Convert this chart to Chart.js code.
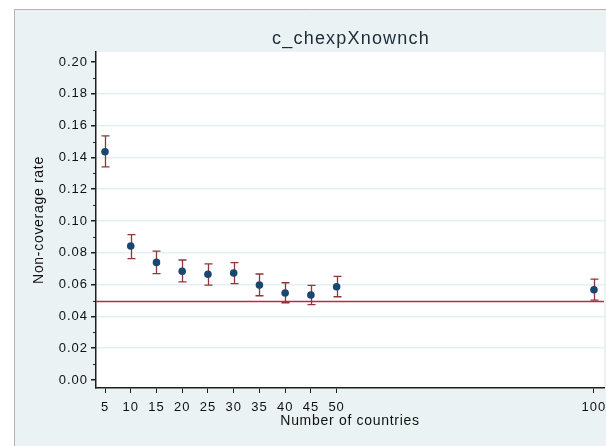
<!DOCTYPE html>
<html>
<head>
<meta charset="utf-8">
<script src="https://cdn.jsdelivr.net/npm/chart.js@4/dist/chart.umd.min.js"></script>
<style>
  html, body { margin: 0; padding: 0; background: #ffffff; }
  #wrap { width: 606px; height: 446px; position: relative; }
</style>
</head>
<body>
<div id="wrap"><canvas id="chart"></canvas></div>
<script>
const countries = [5, 10, 15, 20, 25, 30, 35, 40, 45, 50, 100];
const rates = [0.1436, 0.0843, 0.0740, 0.0684, 0.0665, 0.0673, 0.0597, 0.0547, 0.0535, 0.0587, 0.0568];
const upper = [0.1535, 0.0914, 0.0811, 0.0755, 0.0730, 0.0738, 0.0667, 0.0612, 0.0595, 0.0652, 0.0635];
const lower = [0.1340, 0.0763, 0.0669, 0.0618, 0.0597, 0.0606, 0.0530, 0.0486, 0.0474, 0.0524, 0.0503];
const xTicks = [5, 10, 15, 20, 25, 30, 35, 40, 45, 50, 100];
const yTicks = [0, 0.02, 0.04, 0.06, 0.08, 0.10, 0.12, 0.14, 0.16, 0.18, 0.20];
const refLine = 0.05;

const chartTitle = 'c_chexpXnownch';
const xTitle = 'Number of countries';
const yTitle = 'Non-coverage rate';

const panelBg = '#eaf2f3';
const axisColor = '#1f1f1f';
const gridColor = '#e6eff3';
const pointColor = '#1a476f';
const barColor = '#90353b';
const refColor = '#c4254a';
const font = '"Liberation Sans", Arial, sans-serif';

const points = countries.map((x, i) => ({ x: x, y: rates[i] }));

// background panel + plot area, titles, error bars, reference line, minor ticks
const decor = {
  id: 'decor',
  beforeDraw(chart) {
    const c = chart.ctx, a = chart.chartArea;
    c.save();
    c.fillStyle = '#ffffff';
    c.fillRect(0, 0, chart.width, chart.height);
    c.fillStyle = panelBg;
    c.fillRect(14, 9, chart.width - 14, chart.height - 9);
    c.strokeStyle = '#b4b4b4';
    c.lineWidth = 1;
    c.beginPath();
    c.moveTo(14.5, chart.height);
    c.lineTo(14.5, 9.5);
    c.lineTo(chart.width, 9.5);
    c.stroke();
    c.fillStyle = '#ffffff';
    c.fillRect(a.left, a.top, a.right - a.left, a.bottom - a.top);
    c.restore();
    // stata-ish wide text for tick labels
    c.letterSpacing = '1px';
  },
  afterDatasetsDraw(chart) {
    const c = chart.ctx, a = chart.chartArea;
    const xs = chart.scales.x, ys = chart.scales.y;
    c.save();
    // reference line
    const ry = Math.round(ys.getPixelForValue(refLine)) + 0.5;
    c.strokeStyle = refColor;
    c.lineWidth = 1.3;
    c.beginPath();
    c.moveTo(a.left, ry);
    c.lineTo(a.right, ry);
    c.stroke();
    // error bars
    c.strokeStyle = barColor;
    c.lineWidth = 1.3;
    countries.forEach((x, i) => {
      const px = Math.round(xs.getPixelForValue(x)) + 0.5;
      const top = ys.getPixelForValue(upper[i]);
      const bot = ys.getPixelForValue(lower[i]);
      c.beginPath();
      c.moveTo(px, top); c.lineTo(px, bot);
      c.moveTo(px - 4, top); c.lineTo(px + 4, top);
      c.moveTo(px - 4, bot); c.lineTo(px + 4, bot);
      c.stroke();
    });
    // points on top
    c.fillStyle = pointColor;
    countries.forEach((x, i) => {
      c.beginPath();
      c.arc(xs.getPixelForValue(x), ys.getPixelForValue(rates[i]), 3.8, 0, Math.PI * 2);
      c.fill();
    });
    // minor y ticks
    c.strokeStyle = axisColor;
    c.lineWidth = 1;
    for (let i = 0; i < yTicks.length - 1; i++) {
      const my = Math.round(ys.getPixelForValue((yTicks[i] + yTicks[i + 1]) / 2)) + 0.5;
      c.beginPath();
      c.moveTo(a.left - 3, my);
      c.lineTo(a.left, my);
      c.stroke();
    }
    // titles
    c.fillStyle = '#1e2b38';
    c.font = '18px ' + font;
    c.letterSpacing = '1.2px';
    c.textAlign = 'center';
    c.textBaseline = 'middle';
    c.fillText(chartTitle, (a.left + a.right) / 2 + 1, 39);
    c.fillStyle = '#111111';
    c.font = '14px ' + font;
    c.letterSpacing = '0.7px';
    c.fillText(xTitle, (a.left + a.right) / 2, 421);
    c.translate(39, (a.top + a.bottom) / 2);
    c.rotate(-Math.PI / 2);
    c.fillText(yTitle, 0, 0);
    c.restore();
  }
};

new Chart(document.getElementById('chart'), {
  type: 'scatter',
  data: {
    datasets: [{
      data: points,
      pointRadius: 0,
      pointHoverRadius: 0,
      backgroundColor: pointColor
    }]
  },
  options: {
    responsive: true,
    maintainAspectRatio: false,
    animation: false,
    events: [],
    layout: { padding: { left: 14, top: 52, right: 2, bottom: 0 } },
    plugins: {
      legend: { display: false },
      tooltip: { enabled: false }
    },
    scales: {
      x: {
        type: 'linear',
        min: 3.25,
        max: 101.95,
        afterBuildTicks: s => { s.ticks = xTicks.map(v => ({ value: v })); },
        afterFit: s => { s.height = 58; s.paddingLeft = 0; s.paddingRight = 0; },
        ticks: {
          color: '#111111',
          font: { family: font, size: 13 },
          padding: 7,
          maxRotation: 0,
          autoSkip: false,
          callback: v => String(v)
        },
        grid: {
          drawOnChartArea: false,
          tickColor: axisColor,
          tickLength: 5
        },
        border: { color: axisColor, width: 1.5 }
      },
      y: {
        min: -0.005,
        max: 0.2063,
        afterBuildTicks: s => { s.ticks = yTicks.map(v => ({ value: v })); },
        afterFit: s => { s.width = 82; s.paddingTop = 0; s.paddingBottom = 0; },
        ticks: {
          color: '#111111',
          font: { family: font, size: 13 },
          padding: 3,
          autoSkip: false,
          callback: v => v.toFixed(2)
        },
        grid: {
          color: ctx => (ctx.tick && ctx.tick.value > 0 && ctx.tick.value < 0.2) ? gridColor : 'rgba(0,0,0,0)',
          tickColor: axisColor,
          tickLength: 5,
          lineWidth: 1.5
        },
        border: { color: axisColor, width: 1.5 }
      }
    }
  },
  plugins: [decor]
});
</script>
</body>
</html>
